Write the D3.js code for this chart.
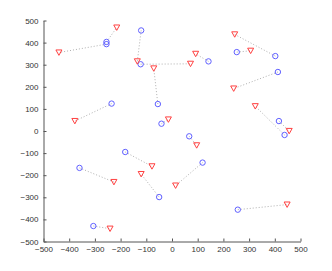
<!DOCTYPE html>
<html>
<head>
<meta charset="utf-8">
<script src="https://cdn.jsdelivr.net/npm/d3@7/dist/d3.min.js"></script>
<style>
  body { margin: 0; background: #fff; }
  svg { display: block; }
  .tick text { font-family: "Liberation Sans", Arial, sans-serif; font-size: 8px; fill: #333; }
</style>
</head>
<body>
<svg id="chart" width="332" height="271"></svg>
<script>
// circle points (blue) and their paired triangle points (red)
var circleX = [-255, -255, -120, -122, -55, -235, -41, 142, 402, 252, 412, 438, 416, -182, -360, -50, -306, 67, 119, 256];
var circleY = [393, 403, 455, 302, 122, 124, 33, 315, 339, 357, 267, -18, 45, -95, -167, -299, -430, -24, -143, -356];
var triX = [-440, -215, -135, 72, -71, -378, -14, 92, 244, 306, 240, 324, 456, -78, -226, -120, -241, 96, 14, 448];
var triY = [355, 468, 315, 304, 283, 45, 52, 349, 437, 363, 192, 112, 0, -160, -231, -195, -442, -65, -247, -333];
var xTicks = [-500, -400, -300, -200, -100, 0, 100, 200, 300, 400, 500];
var yTicks = [-500, -400, -300, -200, -100, 0, 100, 200, 300, 400, 500];

var svg = d3.select('#chart');
var x = d3.scaleLinear().domain([-500, 500]).range([43.5, 300.5]);
var y = d3.scaleLinear().domain([-500, 500]).range([241.5, 20.5]);

var fmt = function(d) { return d < 0 ? '\u2212' + Math.abs(d) : '' + d; };

var xAxis = d3.axisBottom(x).tickValues(xTicks).tickFormat(fmt).tickSizeInner(-3).tickSizeOuter(0).tickPadding(5);
var yAxis = d3.axisLeft(y).tickValues(yTicks).tickFormat(fmt).tickSizeInner(-3).tickSizeOuter(0).tickPadding(5);

var gx = svg.append('g').attr('transform', 'translate(0,241.5)').call(xAxis);
var gy = svg.append('g').attr('transform', 'translate(43.5,0)').call(yAxis);
[gx, gy].forEach(function(g) {
  g.select('.domain').attr('stroke', '#555');
  g.selectAll('.tick line').attr('stroke', '#555');
});

var pairs = circleX.map(function(d, i) {
  return { cx: d, cy: circleY[i], tx: triX[i], ty: triY[i] };
});

svg.append('g').selectAll('line')
  .data(pairs)
  .enter()
  .append('line')
  .attr('x1', d => x(d.cx))
  .attr('y1', d => y(d.cy))
  .attr('x2', d => x(d.tx))
  .attr('y2', d => y(d.ty))
  .attr('stroke', '#b0b0b0')
  .attr('stroke-width', 1)
  .attr('stroke-dasharray', '1,2');

svg.append('g').selectAll('circle')
  .data(pairs)
  .enter()
  .append('circle')
  .attr('cx', d => x(d.cx))
  .attr('cy', d => y(d.cy))
  .attr('r', 2.7)
  .attr('fill', 'none')
  .attr('stroke', '#6060ff')
  .attr('stroke-width', 1);

svg.append('g').selectAll('path')
  .data(pairs)
  .enter()
  .append('path')
  .attr('d', 'M-3,-2.6 L3,-2.6 L0,2.8 Z')
  .attr('transform', d => 'translate(' + x(d.tx) + ',' + y(d.ty) + ')')
  .attr('fill', 'none')
  .attr('stroke', '#ff4040')
  .attr('stroke-width', 1);
</script>
</body>
</html>
